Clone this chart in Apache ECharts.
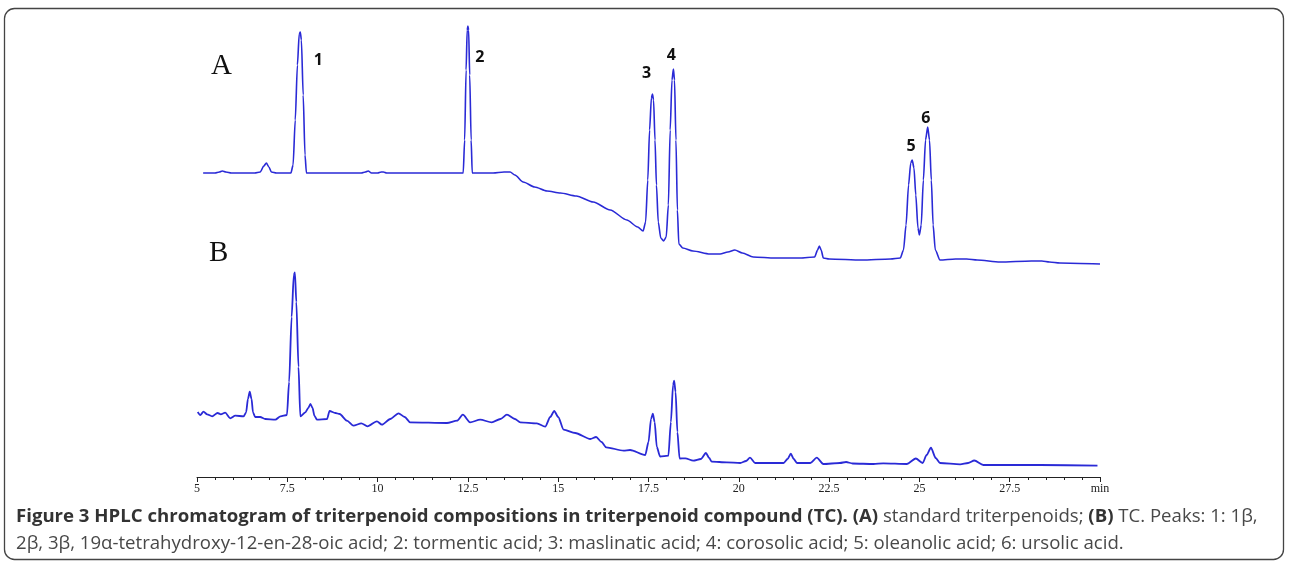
<!DOCTYPE html>
<html>
<head>
<meta charset="utf-8">
<script src="https://cdn.jsdelivr.net/npm/echarts@6/dist/echarts.min.js"></script>
<style>
html,body{margin:0;padding:0;background:#fff;}
#chart{width:1289px;height:566px;}
</style>
</head>
<body>
<div id="chart"></div>
<script>
// Retention time (min) and detector signal (arbitrary units)
var traceA = [
[5.17,107],[5.5,107],[5.62,108],[5.7,109],[5.8,108],[5.95,107],[6.6,107],[6.75,108],[6.85,114],[6.92,117],[6.99,113],[7.06,108],[7.2,107],[7.6,107],[7.66,115],[7.72,160],[7.78,215],[7.83,246],[7.86,248],[7.89,240],[7.94,185],[7.99,125],[8.03,107],[9.0,107],[9.55,107],[9.66,108],[9.74,109],[9.83,107],[10.0,107],[10.1,108],[10.16,108],[10.25,107],[11.0,107],[12.37,107],[12.41,140],[12.45,210],[12.48,250],[12.5,254],[12.52,250],[12.55,205],[12.59,140],[12.62,107],[13.2,107],[13.5,108],[13.67,108],[13.8,105],[14.03,98],[14.35,93],[14.69,89],[15.06,87],[15.5,84],[15.97,78],[16.44,70],[16.9,60],[17.2,53],[17.35,49],[17.42,58],[17.48,100],[17.53,150],[17.58,182],[17.61,186],[17.64,180],[17.68,140],[17.72,95],[17.77,58],[17.84,42],[17.92,39],[17.99,43],[18.05,75],[18.1,150],[18.15,200],[18.19,211],[18.22,200],[18.26,140],[18.3,70],[18.34,36],[18.45,32],[18.73,29],[19.2,26],[19.48,26],[19.7,28],[19.89,30],[20.1,27],[20.4,23],[21.0,22],[21.7,22],[22.1,23],[22.18,30],[22.23,34],[22.28,30],[22.34,22],[22.5,21],[23.4,20],[24.2,21],[24.47,22],[24.56,30],[24.63,55],[24.7,95],[24.76,117],[24.8,120],[24.85,112],[24.9,85],[24.96,52],[25.0,45],[25.05,55],[25.11,100],[25.17,140],[25.23,153],[25.28,140],[25.33,100],[25.38,55],[25.44,30],[25.57,20],[26.0,21],[26.31,21],[26.6,20],[27.23,18],[28.1,19],[28.39,19],[28.6,18],[28.89,17],[30.0,16]
];
var traceB = [
[5.02,65],[5.09,62],[5.18,65.3],[5.28,62.7],[5.42,60.7],[5.57,64],[5.66,62.7],[5.78,64.3],[5.92,58.7],[6.06,61.3],[6.29,60.7],[6.36,64.7],[6.41,78],[6.46,85.3],[6.51,78],[6.55,64.7],[6.61,60],[6.75,60],[6.89,58],[7.17,57.3],[7.31,60.7],[7.49,62],[7.55,95],[7.62,160],[7.68,202],[7.71,204.7],[7.75,175],[7.81,110],[7.86,60.7],[8.0,64.7],[8.08,69],[8.14,73],[8.2,69],[8.25,61.3],[8.32,57.3],[8.6,58],[8.67,66],[8.83,64],[8.95,63],[9.15,56.3],[9.33,51.3],[9.55,53.7],[9.72,50.7],[9.98,55.7],[10.12,52.3],[10.35,58],[10.58,63.7],[10.75,60],[10.9,54.7],[11.92,54],[12.2,56.3],[12.36,62.3],[12.56,54.7],[12.84,57.3],[13.16,54.7],[13.4,58],[13.58,62.3],[13.8,58],[13.95,54.7],[14.41,53.7],[14.64,50.3],[14.78,60],[14.89,66],[15.0,60],[15.15,47.3],[15.47,44],[15.89,38],[16.05,40],[16.2,35],[16.33,29.7],[16.81,26.3],[16.99,27],[17.41,22],[17.5,35],[17.57,58],[17.62,63.3],[17.67,55],[17.73,30],[17.82,20.5],[18.05,21.3],[18.12,55],[18.18,92],[18.21,96.3],[18.25,85],[18.3,45],[18.36,18.5],[18.52,18.7],[18.74,16.3],[18.95,18],[19.09,24],[19.18,19],[19.25,15.3],[19.67,14.7],[20.04,14],[20.2,16],[20.31,19.3],[20.45,14],[21.24,14],[21.35,18],[21.44,23.3],[21.52,18],[21.61,14],[21.98,14],[22.16,19.3],[22.34,13],[22.8,14],[22.97,15],[23.15,13.5],[23.73,13],[24.0,13.7],[24.65,13],[24.9,18.5],[25.09,14],[25.2,22],[25.32,29.3],[25.45,19],[25.57,14],[26.13,12.7],[26.35,14],[26.52,16.5],[26.77,12],[28.34,12],[29.93,11.3]
];
var tickLabels = ['5','7.5','10','12.5','15','17.5','20','22.5','25','27.5','min'];
var peakNames = ['1','2','3','4','5','6'];
var peakTimes = [7.86, 12.5, 17.61, 18.19, 24.8, 25.23];
var peakHeights = [248, 254, 186, 211, 120, 153];
var panelNames = ['A','B'];

var labelOffsets = [[18,28],[12,31],[-6,-21],[-2,-14],[-1,-14],[-2,-9]];
var lineColor = '#2a2ad6';

var chart = echarts.init(document.getElementById('chart'), null, {renderer:'canvas'});
var capFont = '"Open Sans", sans-serif';
var capSize = 18.6;
var option = {
  animation: false,
  backgroundColor: '#fff',
  grid: [
    {left: 197, width: 903, top: 20, height: 260},
    {left: 197, width: 903, top: 259, height: 218}
  ],
  xAxis: [
    {gridIndex: 0, type: 'value', min: 5, max: 30, show: false},
    {gridIndex: 1, type: 'value', min: 5, max: 30, interval: 2.5,
     axisLine: {lineStyle: {color: '#222', width: 1}},
     axisTick: {show: true, length: 5, lineStyle: {color: '#222', width: 1}},
     minorTick: {show: true, splitNumber: 5, length: 3, lineStyle: {color: '#222', width: 1}},
     splitLine: {show: false},
     axisLabel: {
       showMinLabel: true, showMaxLabel: true,
       fontFamily: '"Liberation Serif", serif', fontSize: 12, color: '#222', margin: 6,
       formatter: function (v) { return tickLabels[Math.round((v - 5) / 2.5)]; }
     }}
  ],
  yAxis: [
    {gridIndex: 0, type: 'value', min: 0, max: 260, show: false},
    {gridIndex: 1, type: 'value', min: 0, max: 218, show: false}
  ],
  series: [
    {type: 'line', xAxisIndex: 0, yAxisIndex: 0, data: traceA, showSymbol: false,
     smooth: 0.25, smoothMonotone: 'x',
     lineStyle: {color: lineColor, width: 1.6},
     markPoint: {
       symbol: 'circle', symbolSize: 0,
       label: {show: true, position: 'inside', color: '#111', fontFamily: capFont, fontWeight: 'bold', fontSize: 16},
       data: peakNames.map(function (n, i) {
         return {name: n, coord: [peakTimes[i], peakHeights[i]],
                 label: {formatter: n, offset: labelOffsets[i]}};
       })
     }},
    {type: 'line', xAxisIndex: 1, yAxisIndex: 1, data: traceB, showSymbol: false,
     smooth: 0.25, smoothMonotone: 'x',
     lineStyle: {color: lineColor, width: 1.8}}
  ],
  graphic: [
    {type: 'rect', shape: {x: 4.5, y: 8.5, width: 1279, height: 551, r: 10},
     style: {fill: 'none', stroke: '#444', lineWidth: 1.3}, silent: true},
    {type: 'text', left: 211, top: 52, style: {text: panelNames[0], fontFamily: '"Liberation Serif", serif', fontSize: 29, fill: '#111'}},
    {type: 'text', left: 209, top: 239, style: {text: panelNames[1], fontFamily: '"Liberation Serif", serif', fontSize: 29, fill: '#111'}},
    {type: 'text', style: {
      x: 16, y: 517, verticalAlign: 'middle',
      text: '{b|Figure 3 HPLC chromatogram of triterpenoid compositions in triterpenoid compound (TC). (A)}{r| standard triterpenoids; }{b|(B)}{r| TC. Peaks: 1: 1β,}',
      rich: {
        b: {fontFamily: capFont, fontSize: capSize, fontWeight: 'bold', fill: '#333'},
        r: {fontFamily: capFont, fontSize: capSize, fontWeight: 'normal', fill: '#484848'}
      }}},
    {type: 'text', style: {
      x: 16, y: 544, verticalAlign: 'middle',
      text: '2β, 3β, 19α-tetrahydroxy-12-en-28-oic acid; 2: tormentic acid; 3: maslinatic acid; 4: corosolic acid; 5: oleanolic acid; 6: ursolic acid.',
      fontFamily: capFont, fontSize: capSize, fill: '#484848'}}
  ]
};
chart.setOption(option);
</script>
</body>
</html>
